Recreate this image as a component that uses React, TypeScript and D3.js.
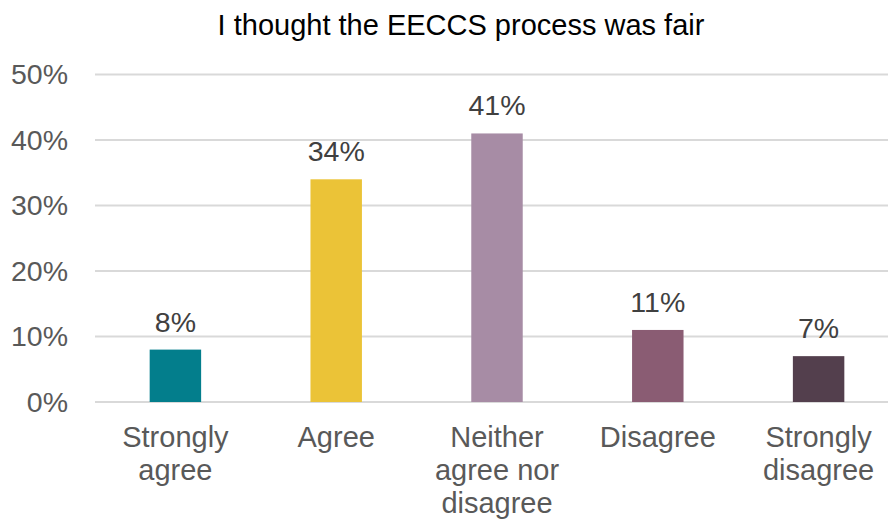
import React from "react";
import * as d3 from "d3";

const categories: string[][] = [
  ["Strongly", "agree"],
  ["Agree"],
  ["Neither", "agree nor", "disagree"],
  ["Disagree"],
  ["Strongly", "disagree"],
];
const values: number[] = [8, 34, 41, 11, 7];
const colors: string[] = ["#037E8C", "#EBC337", "#A78CA5", "#8A5C73", "#533F4D"];
const yTicks: number[] = [0, 10, 20, 30, 40, 50];
const title = "I thought the EECCS process was fair";

export default function App() {
  const W = 888;
  const H = 523;
  const left = 95;
  const right = 899;
  const top = 74.5;
  const bottom = 402;
  const font = "'Liberation Sans', Arial, sans-serif";

  const x = d3
    .scaleBand<number>()
    .domain(values.map((_, i) => i))
    .range([left, right])
    .paddingInner(0.68)
    .paddingOuter(0.34);
  const y = d3.scaleLinear().domain([0, 50]).range([bottom, top]);

  return (
    <svg
      width={W}
      height={H}
      style={{ position: "absolute", left: 0, top: 0, background: "#fff" }}
      fontFamily={font}
    >
      <text x={461} y={35} textAnchor="middle" fontSize={29} fill="#000">
        {title}
      </text>
      {yTicks.map((t) => (
        <g key={t}>
          <line x1={left} x2={right} y1={y(t)} y2={y(t)} stroke="#D9D9D9" strokeWidth={2} />
          <text x={68} y={y(t)} dy="0.35em" textAnchor="end" fontSize={28.5} fill="#595959">
            {t}%
          </text>
        </g>
      ))}
      {values.map((v, i) => {
        const bx = x(i)!;
        const bw = x.bandwidth();
        const cx = bx + bw / 2;
        return (
          <g key={i}>
            <rect x={bx} y={y(v)} width={bw} height={y(0) - y(v)} fill={colors[i]} />
            <text x={cx} y={y(v) - 18} textAnchor="middle" fontSize={28.5} fill="#404040">
              {v}%
            </text>
            {categories[i].map((line, j) => (
              <text
                key={j}
                x={cx}
                y={447 + j * 33}
                textAnchor="middle"
                fontSize={29}
                fill="#595959"
              >
                {line}
              </text>
            ))}
          </g>
        );
      })}
    </svg>
  );
}
